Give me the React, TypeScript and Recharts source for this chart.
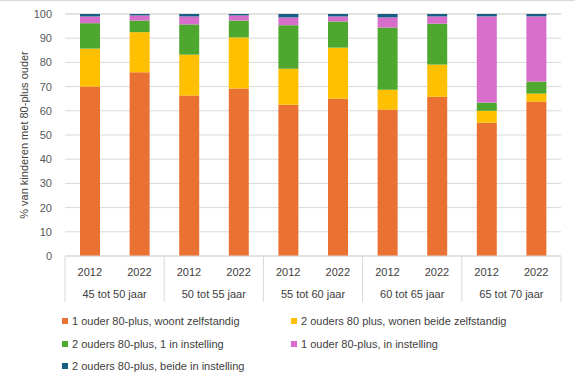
import React from 'react';
import { BarChart, Bar, XAxis, YAxis, CartesianGrid } from 'recharts';

const years = ['2012', '2022', '2012', '2022', '2012', '2022', '2012', '2022', '2012', '2022'];
const ageGroups = ['45 tot 50 jaar', '50 tot 55 jaar', '55 tot 60 jaar', '60 tot 65 jaar', '65 tot 70 jaar'];

const eenZelfstandig = [70.0, 75.9, 66.3, 69.2, 62.5, 65.0, 60.5, 65.8, 55.1, 63.8];
const tweeZelfstandig = [15.7, 16.6, 16.9, 21.1, 14.9, 21.1, 8.2, 13.3, 4.9, 3.3];
const tweeEenInstelling = [10.5, 4.8, 12.5, 7.0, 18.0, 10.8, 25.7, 16.9, 3.4, 5.0];
const eenInstelling = [2.8, 2.1, 3.3, 2.1, 3.2, 2.1, 4.2, 3.0, 35.6, 26.9];
const tweeBeideInstelling = [1.0, 0.6, 1.0, 0.6, 1.4, 1.0, 1.4, 1.0, 1.0, 1.0];

const yTicks = [0, 10, 20, 30, 40, 50, 60, 70, 80, 90, 100];

const SERIES = [
  { key: 'a', name: '1 ouder 80-plus, woont zelfstandig', color: '#E97132', values: eenZelfstandig },
  { key: 'b', name: '2 ouders 80 plus, wonen beide zelfstandig', color: '#FFC000', values: tweeZelfstandig },
  { key: 'c', name: '2 ouders 80-plus, 1 in instelling', color: '#4EA72E', values: tweeEenInstelling },
  { key: 'd', name: '1 ouder 80-plus, in instelling', color: '#D86ECC', values: eenInstelling },
  { key: 'e', name: '2 ouders 80-plus, beide in instelling', color: '#156082', values: tweeBeideInstelling },
];

const data = years.map((year, i) => {
  const row: Record<string, string | number> = { id: i, year };
  SERIES.forEach((s) => {
    row[s.key] = s.values[i];
  });
  return row;
});

const WIDTH = 575;
const HEIGHT = 382;
const MARGIN = { top: 14, right: 14, left: 0, bottom: 76 };
const Y_AXIS_W = 65;
const BAND = (WIDTH - MARGIN.left - MARGIN.right - Y_AXIS_W) / years.length;
const FONT = '"Liberation Sans", Arial, sans-serif';

const CategoryTick = (props: any) => {
  const { x, y, payload, index } = props;
  const i = index ?? payload.index;
  return (
    <g>
      <text x={x} y={y + 20} textAnchor="middle" fontSize={11} fill="#404040" fontFamily={FONT}>
        {years[i]}
      </text>
      {i % 2 === 0 && (
        <>
          <line x1={x - BAND / 2} x2={x - BAND / 2} y1={y} y2={y + 46} stroke="#d9d9d9" />
          <text x={x + BAND / 2} y={y + 42} textAnchor="middle" fontSize={11} fill="#404040" fontFamily={FONT}>
            {ageGroups[i / 2]}
          </text>
        </>
      )}
      {i === years.length - 1 && (
        <line x1={x + BAND / 2} x2={x + BAND / 2} y1={y} y2={y + 46} stroke="#d9d9d9" />
      )}
    </g>
  );
};

const legendPos = [
  { left: 62, top: 320 },
  { left: 291, top: 320 },
  { left: 62, top: 342.5 },
  { left: 291, top: 342.5 },
  { left: 62, top: 364.5 },
];

export default function App() {
  return (
    <div
      style={{
        position: 'absolute',
        left: 0,
        top: 0,
        width: WIDTH,
        height: HEIGHT,
        background: '#fff',
        fontFamily: FONT,
        borderTop: '1px solid #d9d9d9',
        boxSizing: 'border-box',
      }}
    >
      <BarChart width={WIDTH} height={HEIGHT - 1} data={data} margin={{ ...MARGIN, top: MARGIN.top - 1 }} style={{ position: 'absolute', left: 0, top: 0 }}>
        <CartesianGrid vertical={false} stroke="#d9d9d9" />
        <XAxis
          dataKey="id"
          interval={0}
          height={50}
          tickSize={0}
          tickMargin={0}
          tickLine={false}
          axisLine={{ stroke: '#d9d9d9' }}
          tick={<CategoryTick />}
        />
        <YAxis
          width={Y_AXIS_W}
          domain={[0, 100]}
          ticks={yTicks}
          interval={0}
          axisLine={false}
          tickLine={false}
          tickSize={0}
          tickMargin={13}
          tick={{ fontSize: 11, fill: '#595959', fontFamily: FONT }}
          label={{
            value: '% van kinderen met 80-plus ouder',
            angle: -90,
            position: 'insideLeft',
            offset: 24,
            style: { textAnchor: 'middle', fontSize: 11, fill: '#404040', fontFamily: FONT },
          }}
        />
        {SERIES.map((s) => (
          <Bar key={s.key} dataKey={s.key} name={s.name} stackId="s" fill={s.color} barSize={20} isAnimationActive={false} />
        ))}
      </BarChart>
      {SERIES.map((s, i) => (
        <div
          key={s.key}
          style={{
            position: 'absolute',
            left: legendPos[i].left,
            top: legendPos[i].top - 8,
            height: 16,
            display: 'flex',
            alignItems: 'center',
            whiteSpace: 'nowrap',
            fontSize: 11,
            color: '#404040',
          }}
        >
          <span style={{ display: 'inline-block', width: 6, height: 6, background: s.color, marginRight: 4 }} />
          <span>{s.name}</span>
        </div>
      ))}
    </div>
  );
}
